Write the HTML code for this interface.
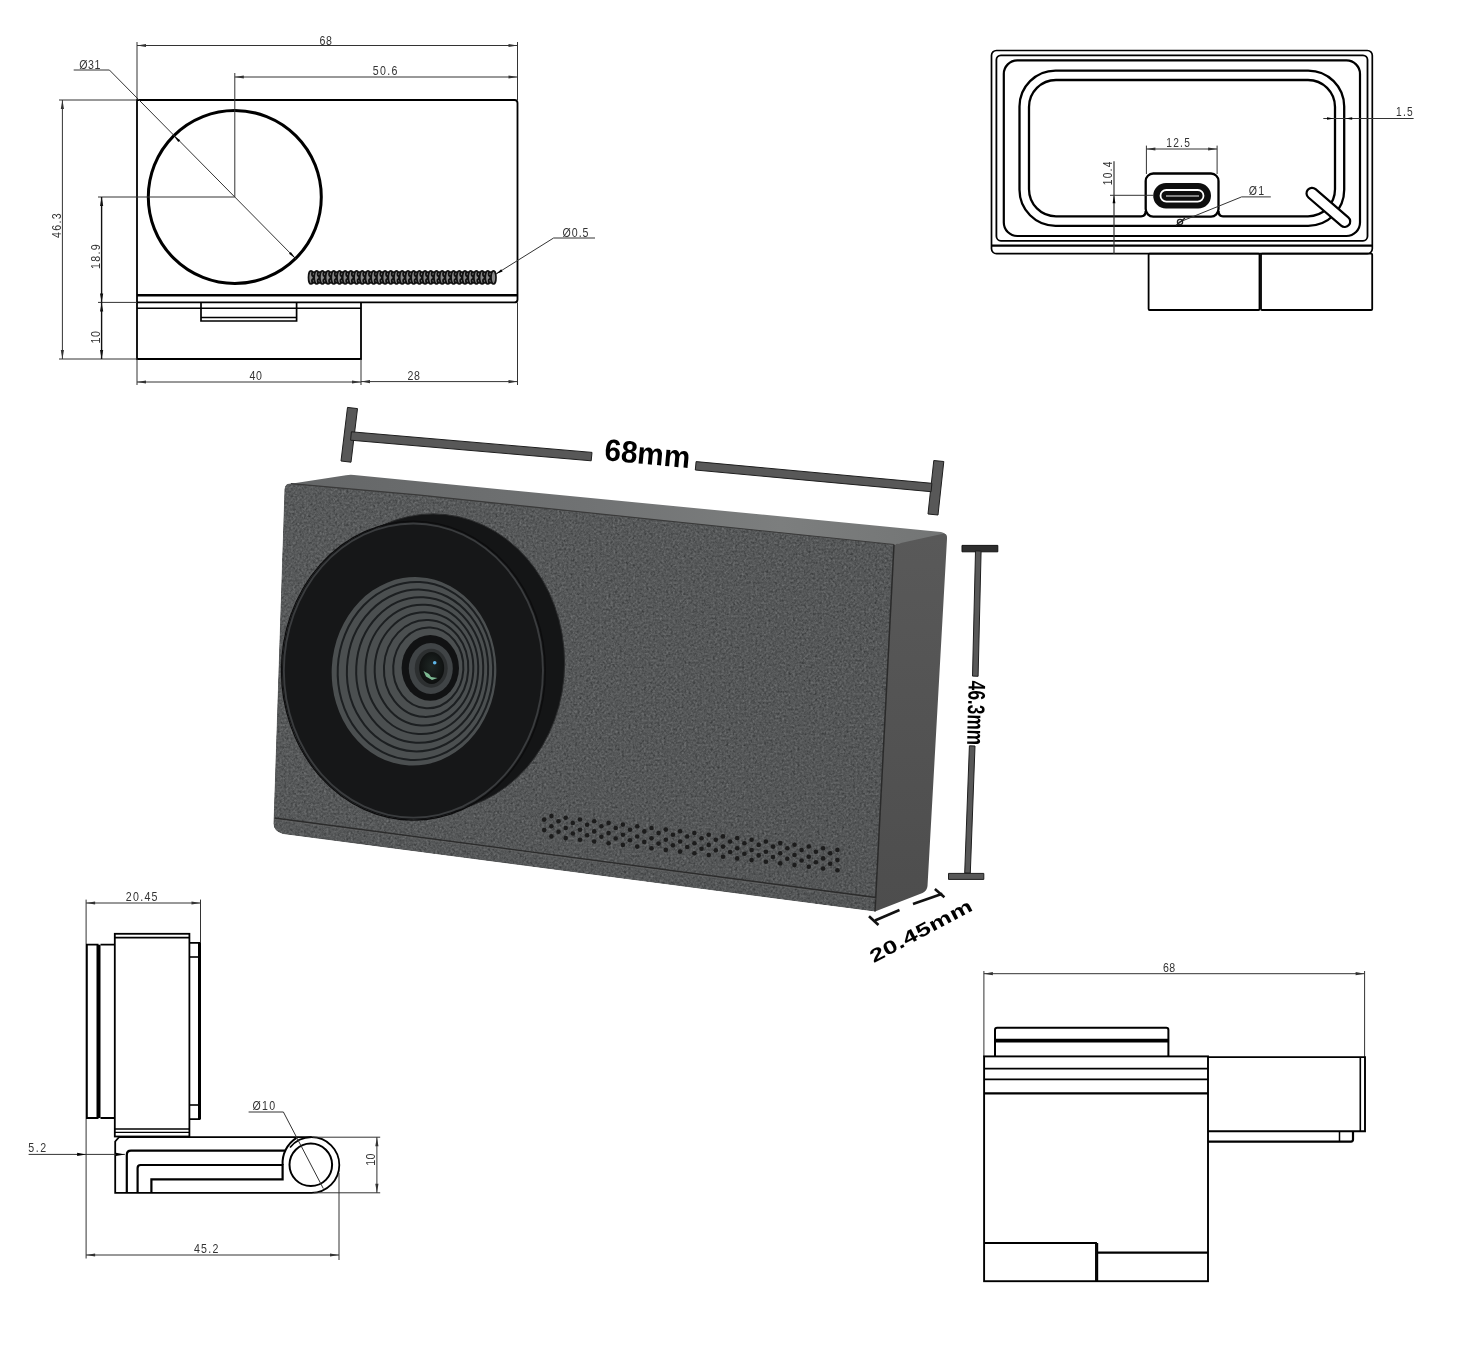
<!DOCTYPE html>
<html><head><meta charset="utf-8"><style>
html,body{margin:0;padding:0;background:#fff;overflow:hidden;}
svg{display:block;will-change:transform;}
</style></head><body>
<svg width="1471" height="1358" viewBox="0 0 1471 1358">
<rect width="1471" height="1358" fill="#fff"/>
<path d="M137,100 H514.5 Q517.5,100 517.5,103 V299.4 Q517.5,302.4 514.5,302.4 H137 Z" fill="none" stroke="#000" stroke-width="1.8"/><line x1="137" y1="295.2" x2="517.5" y2="295.2" stroke="#000" stroke-width="2.4" /><path d="M137,302.4 V359 H361 V302.4" fill="none" stroke="#000" stroke-width="1.8"/><line x1="137" y1="308.3" x2="361" y2="308.3" stroke="#000" stroke-width="1.6" /><path d="M201,302.4 V321 H296.6 V302.4" fill="none" stroke="#000" stroke-width="1.7"/><line x1="201" y1="317.6" x2="296.6" y2="317.6" stroke="#000" stroke-width="1.5" /><circle cx="234.8" cy="197" r="86.5" fill="none" stroke="#000" stroke-width="3"/><line x1="234.8" y1="73" x2="234.8" y2="197" stroke="#333" stroke-width="1" /><line x1="98" y1="197" x2="234.8" y2="197" stroke="#333" stroke-width="1" /><polyline points="73.7,70 109.4,70 296,259" fill="none" stroke="#333" stroke-width="1"/><polygon points="173.6,135.5 180.2,140.2 178.3,142.1" fill="#000"/><polygon points="295.5,258.5 289.0,253.7 290.8,251.9" fill="#000"/><text transform="translate(90,64) rotate(0) scale(0.85,1)" font-family="&quot;Liberation Sans&quot;, sans-serif" font-size="12.5" font-weight="normal" letter-spacing="0.6" fill="#333" text-anchor="middle" dominant-baseline="central">&#216;31</text><line x1="137" y1="42" x2="137" y2="100" stroke="#333" stroke-width="1" /><line x1="517.5" y1="42" x2="517.5" y2="100" stroke="#333" stroke-width="1" /><line x1="137" y1="45.5" x2="517.5" y2="45.5" stroke="#333" stroke-width="1.0" /><polygon points="137.0,45.5 146.0,43.9 146.0,47.1" fill="#333"/><polygon points="517.5,45.5 508.5,47.1 508.5,43.9" fill="#333"/><text transform="translate(326,40) rotate(0) scale(0.85,1)" font-family="&quot;Liberation Sans&quot;, sans-serif" font-size="12.5" font-weight="normal" letter-spacing="0.6" fill="#333" text-anchor="middle" dominant-baseline="central">68</text><line x1="234.8" y1="77" x2="517.5" y2="77" stroke="#333" stroke-width="1.0" /><polygon points="234.8,77.0 243.8,75.4 243.8,78.6" fill="#333"/><polygon points="517.5,77.0 508.5,78.6 508.5,75.4" fill="#333"/><text transform="translate(385.7,70.4) rotate(0) scale(0.85,1)" font-family="&quot;Liberation Sans&quot;, sans-serif" font-size="12.5" font-weight="normal" letter-spacing="1.5" fill="#333" text-anchor="middle" dominant-baseline="central">50.6</text><line x1="59" y1="100" x2="137" y2="100" stroke="#333" stroke-width="1" /><line x1="59" y1="359" x2="137" y2="359" stroke="#333" stroke-width="1" /><line x1="62.4" y1="100" x2="62.4" y2="359" stroke="#333" stroke-width="1.0" /><polygon points="62.4,100.0 64.0,109.0 60.8,109.0" fill="#333"/><polygon points="62.4,359.0 60.8,350.0 64.0,350.0" fill="#333"/><text transform="translate(56,225) rotate(-90) scale(0.85,1)" font-family="&quot;Liberation Sans&quot;, sans-serif" font-size="12.5" font-weight="normal" letter-spacing="1.5" fill="#333" text-anchor="middle" dominant-baseline="central">46.3</text><line x1="98" y1="302.4" x2="137" y2="302.4" stroke="#333" stroke-width="1" /><line x1="101.6" y1="197" x2="101.6" y2="302.4" stroke="#111" stroke-width="1.4" /><polygon points="101.6,197.0 103.2,206.0 100.0,206.0" fill="#111"/><polygon points="101.6,302.4 100.0,293.4 103.2,293.4" fill="#111"/><line x1="101.6" y1="302.4" x2="101.6" y2="359" stroke="#111" stroke-width="1.4" /><polygon points="101.6,302.4 103.2,311.4 100.0,311.4" fill="#111"/><polygon points="101.6,359.0 100.0,350.0 103.2,350.0" fill="#111"/><text transform="translate(95,256) rotate(-90) scale(0.85,1)" font-family="&quot;Liberation Sans&quot;, sans-serif" font-size="12.5" font-weight="normal" letter-spacing="1.5" fill="#333" text-anchor="middle" dominant-baseline="central">18.9</text><text transform="translate(95,337) rotate(-90) scale(0.85,1)" font-family="&quot;Liberation Sans&quot;, sans-serif" font-size="12.5" font-weight="normal" letter-spacing="0.6" fill="#333" text-anchor="middle" dominant-baseline="central">10</text><line x1="137" y1="359" x2="137" y2="385" stroke="#333" stroke-width="1" /><line x1="361" y1="359" x2="361" y2="385" stroke="#333" stroke-width="1" /><line x1="517.5" y1="302.4" x2="517.5" y2="385" stroke="#333" stroke-width="1" /><line x1="137" y1="382" x2="361" y2="382" stroke="#333" stroke-width="1.0" /><polygon points="137.0,382.0 146.0,380.4 146.0,383.6" fill="#333"/><polygon points="361.0,382.0 352.0,383.6 352.0,380.4" fill="#333"/><line x1="361" y1="381.6" x2="517.5" y2="381.6" stroke="#333" stroke-width="1.0" /><polygon points="361.0,381.6 370.0,380.0 370.0,383.2" fill="#333"/><polygon points="517.5,381.6 508.5,383.2 508.5,380.0" fill="#333"/><text transform="translate(256,375) rotate(0) scale(0.85,1)" font-family="&quot;Liberation Sans&quot;, sans-serif" font-size="12.5" font-weight="normal" letter-spacing="0.6" fill="#333" text-anchor="middle" dominant-baseline="central">40</text><text transform="translate(414,375) rotate(0) scale(0.85,1)" font-family="&quot;Liberation Sans&quot;, sans-serif" font-size="12.5" font-weight="normal" letter-spacing="0.6" fill="#333" text-anchor="middle" dominant-baseline="central">28</text><g fill="#888" stroke="#111" stroke-width="1.7"><ellipse cx="311.0" cy="277.4" rx="2.5" ry="6.6" /><circle cx="313.9" cy="274.2" r="2" /><circle cx="313.9" cy="280.8" r="2" /><ellipse cx="316.7" cy="277.4" rx="2.5" ry="6.6" /><circle cx="319.6" cy="274.2" r="2" /><circle cx="319.6" cy="280.8" r="2" /><ellipse cx="322.4" cy="277.4" rx="2.5" ry="6.6" /><circle cx="325.3" cy="274.2" r="2" /><circle cx="325.3" cy="280.8" r="2" /><ellipse cx="328.1" cy="277.4" rx="2.5" ry="6.6" /><circle cx="331.0" cy="274.2" r="2" /><circle cx="331.0" cy="280.8" r="2" /><ellipse cx="333.8" cy="277.4" rx="2.5" ry="6.6" /><circle cx="336.7" cy="274.2" r="2" /><circle cx="336.7" cy="280.8" r="2" /><ellipse cx="339.5" cy="277.4" rx="2.5" ry="6.6" /><circle cx="342.4" cy="274.2" r="2" /><circle cx="342.4" cy="280.8" r="2" /><ellipse cx="345.2" cy="277.4" rx="2.5" ry="6.6" /><circle cx="348.1" cy="274.2" r="2" /><circle cx="348.1" cy="280.8" r="2" /><ellipse cx="350.9" cy="277.4" rx="2.5" ry="6.6" /><circle cx="353.8" cy="274.2" r="2" /><circle cx="353.8" cy="280.8" r="2" /><ellipse cx="356.6" cy="277.4" rx="2.5" ry="6.6" /><circle cx="359.5" cy="274.2" r="2" /><circle cx="359.5" cy="280.8" r="2" /><ellipse cx="362.3" cy="277.4" rx="2.5" ry="6.6" /><circle cx="365.2" cy="274.2" r="2" /><circle cx="365.2" cy="280.8" r="2" /><ellipse cx="368.0" cy="277.4" rx="2.5" ry="6.6" /><circle cx="370.9" cy="274.2" r="2" /><circle cx="370.9" cy="280.8" r="2" /><ellipse cx="373.7" cy="277.4" rx="2.5" ry="6.6" /><circle cx="376.6" cy="274.2" r="2" /><circle cx="376.6" cy="280.8" r="2" /><ellipse cx="379.4" cy="277.4" rx="2.5" ry="6.6" /><circle cx="382.3" cy="274.2" r="2" /><circle cx="382.3" cy="280.8" r="2" /><ellipse cx="385.1" cy="277.4" rx="2.5" ry="6.6" /><circle cx="388.0" cy="274.2" r="2" /><circle cx="388.0" cy="280.8" r="2" /><ellipse cx="390.8" cy="277.4" rx="2.5" ry="6.6" /><circle cx="393.7" cy="274.2" r="2" /><circle cx="393.7" cy="280.8" r="2" /><ellipse cx="396.5" cy="277.4" rx="2.5" ry="6.6" /><circle cx="399.4" cy="274.2" r="2" /><circle cx="399.4" cy="280.8" r="2" /><ellipse cx="402.2" cy="277.4" rx="2.5" ry="6.6" /><circle cx="405.1" cy="274.2" r="2" /><circle cx="405.1" cy="280.8" r="2" /><ellipse cx="408.0" cy="277.4" rx="2.5" ry="6.6" /><circle cx="410.8" cy="274.2" r="2" /><circle cx="410.8" cy="280.8" r="2" /><ellipse cx="413.7" cy="277.4" rx="2.5" ry="6.6" /><circle cx="416.5" cy="274.2" r="2" /><circle cx="416.5" cy="280.8" r="2" /><ellipse cx="419.4" cy="277.4" rx="2.5" ry="6.6" /><circle cx="422.2" cy="274.2" r="2" /><circle cx="422.2" cy="280.8" r="2" /><ellipse cx="425.1" cy="277.4" rx="2.5" ry="6.6" /><circle cx="427.9" cy="274.2" r="2" /><circle cx="427.9" cy="280.8" r="2" /><ellipse cx="430.8" cy="277.4" rx="2.5" ry="6.6" /><circle cx="433.6" cy="274.2" r="2" /><circle cx="433.6" cy="280.8" r="2" /><ellipse cx="436.5" cy="277.4" rx="2.5" ry="6.6" /><circle cx="439.3" cy="274.2" r="2" /><circle cx="439.3" cy="280.8" r="2" /><ellipse cx="442.2" cy="277.4" rx="2.5" ry="6.6" /><circle cx="445.0" cy="274.2" r="2" /><circle cx="445.0" cy="280.8" r="2" /><ellipse cx="447.9" cy="277.4" rx="2.5" ry="6.6" /><circle cx="450.7" cy="274.2" r="2" /><circle cx="450.7" cy="280.8" r="2" /><ellipse cx="453.6" cy="277.4" rx="2.5" ry="6.6" /><circle cx="456.4" cy="274.2" r="2" /><circle cx="456.4" cy="280.8" r="2" /><ellipse cx="459.3" cy="277.4" rx="2.5" ry="6.6" /><circle cx="462.1" cy="274.2" r="2" /><circle cx="462.1" cy="280.8" r="2" /><ellipse cx="465.0" cy="277.4" rx="2.5" ry="6.6" /><circle cx="467.8" cy="274.2" r="2" /><circle cx="467.8" cy="280.8" r="2" /><ellipse cx="470.7" cy="277.4" rx="2.5" ry="6.6" /><circle cx="473.5" cy="274.2" r="2" /><circle cx="473.5" cy="280.8" r="2" /><ellipse cx="476.4" cy="277.4" rx="2.5" ry="6.6" /><circle cx="479.2" cy="274.2" r="2" /><circle cx="479.2" cy="280.8" r="2" /><ellipse cx="482.1" cy="277.4" rx="2.5" ry="6.6" /><circle cx="484.9" cy="274.2" r="2" /><circle cx="484.9" cy="280.8" r="2" /><ellipse cx="487.8" cy="277.4" rx="2.5" ry="6.6" /><circle cx="490.6" cy="274.2" r="2" /><circle cx="490.6" cy="280.8" r="2" /><ellipse cx="493.5" cy="277.4" rx="2.5" ry="6.6" /></g><polyline points="496,274 553.6,238 595,238" fill="none" stroke="#333" stroke-width="1"/><polygon points="496.0,274.0 501.2,269.2 502.6,271.4" fill="#000"/><text transform="translate(576,232) rotate(0) scale(0.85,1)" font-family="&quot;Liberation Sans&quot;, sans-serif" font-size="12.5" font-weight="normal" letter-spacing="1.2" fill="#333" text-anchor="middle" dominant-baseline="central">&#216;0.5</text><rect x="991.5" y="50.5" width="380.80" height="203.20" rx="5" fill="none" stroke="#000" stroke-width="1.7"/><line x1="991.5" y1="245.6" x2="1372.3" y2="245.6" stroke="#000" stroke-width="2.2" /><rect x="996.4" y="55.3" width="371.10" height="185.50" rx="4.5" fill="none" stroke="#000" stroke-width="1.8"/><rect x="1003.8" y="60.4" width="356.20" height="175.60" rx="13.5" fill="none" stroke="#000" stroke-width="2.2"/><rect x="1019.5" y="70.6" width="324.70" height="155.20" rx="36" fill="none" stroke="#000" stroke-width="2.3"/><path d="M1141,216.3 H1056 A27,27 0 0 1 1029,189.3 V107 A27,27 0 0 1 1056,80 H1308 A27,27 0 0 1 1335,107 V189.3 A27,27 0 0 1 1308,216.3 H1223 Q1218.5,216.3 1218.5,211 M1141,216.3 Q1145.7,216.3 1145.7,211" fill="none" stroke="#000" stroke-width="2.3"/><rect x="1145.7" y="173.5" width="72.80" height="43.10" rx="7.5" fill="none" stroke="#000" stroke-width="2.3"/><rect x="1153.2" y="183" width="57.8" height="25.6" rx="12.8" fill="#0e0e0e"/><rect x="1160.5" y="190" width="43" height="11.6" rx="5.8" fill="#0e0e0e" stroke="#fff" stroke-width="1.8"/><line x1="1166" y1="196" x2="1199" y2="196" stroke="#aaa" stroke-width="1.3" /><line x1="1312" y1="193.3" x2="1344.7" y2="221.5" stroke="#000" stroke-width="13.2" stroke-linecap="round"/><line x1="1312" y1="193.3" x2="1344.7" y2="221.5" stroke="#fff" stroke-width="8.8" stroke-linecap="round"/><rect x="1148.6" y="253.7" width="110.90" height="56.30" rx="1" fill="none" stroke="#000" stroke-width="1.8"/><rect x="1261" y="253.7" width="111.20" height="56.30" rx="1" fill="none" stroke="#000" stroke-width="1.8"/><line x1="1146.4" y1="145.6" x2="1146.4" y2="174" stroke="#333" stroke-width="1" /><line x1="1217.1" y1="145.6" x2="1217.1" y2="174" stroke="#333" stroke-width="1" /><line x1="1146.4" y1="149" x2="1217.1" y2="149" stroke="#333" stroke-width="1.0" /><polygon points="1146.4,149.0 1155.4,147.4 1155.4,150.6" fill="#333"/><polygon points="1217.1,149.0 1208.1,150.6 1208.1,147.4" fill="#333"/><text transform="translate(1178.7,143) rotate(0) scale(0.85,1)" font-family="&quot;Liberation Sans&quot;, sans-serif" font-size="12" font-weight="normal" letter-spacing="1.5" fill="#333" text-anchor="middle" dominant-baseline="central">12.5</text><line x1="1114" y1="161.3" x2="1114" y2="253.7" stroke="#333" stroke-width="1.2" /><polygon points="1114.0,195.3 1115.4,203.3 1112.6,203.3" fill="#000"/><line x1="1110" y1="195.3" x2="1153" y2="195.3" stroke="#333" stroke-width="1" /><text transform="translate(1107.5,172.8) rotate(-90) scale(0.85,1)" font-family="&quot;Liberation Sans&quot;, sans-serif" font-size="12" font-weight="normal" letter-spacing="1.5" fill="#333" text-anchor="middle" dominant-baseline="central">10.4</text><line x1="1323.3" y1="118.5" x2="1413.6" y2="118.5" stroke="#333" stroke-width="1" /><polygon points="1334.0,118.5 1327.0,119.8 1327.0,117.2" fill="#000"/><polygon points="1345.2,118.5 1352.2,117.2 1352.2,119.8" fill="#000"/><text transform="translate(1405,112) rotate(0) scale(0.85,1)" font-family="&quot;Liberation Sans&quot;, sans-serif" font-size="12" font-weight="normal" letter-spacing="1.5" fill="#333" text-anchor="middle" dominant-baseline="central">1.5</text><polyline points="1178.4,222.5 1241.6,196.9 1270.8,196.9" fill="none" stroke="#333" stroke-width="1"/><circle cx="1180" cy="222" r="2.6" fill="none" stroke="#222" stroke-width="1.3"/><line x1="1176" y1="225.5" x2="1185" y2="218" stroke="#222" stroke-width="1.2" /><text transform="translate(1257,190) rotate(0) scale(0.85,1)" font-family="&quot;Liberation Sans&quot;, sans-serif" font-size="12.5" font-weight="normal" letter-spacing="1.5" fill="#333" text-anchor="middle" dominant-baseline="central">&#216;1</text><defs>
<filter id="grain" x="0" y="0" width="100%" height="100%" color-interpolation-filters="sRGB">
  <feTurbulence type="fractalNoise" baseFrequency="0.45" numOctaves="2" seed="7" result="n"/>
  <feColorMatrix in="n" type="matrix" values="0.33 0.33 0.33 0 0  0.33 0.33 0.33 0 0  0.33 0.33 0.33 0 0  0 0 0 0 1" result="g"/>
  <feComposite in="SourceGraphic" in2="g" operator="arithmetic" k1="0" k2="1" k3="0.45" k4="-0.225" result="c"/>
  <feComposite in="c" in2="SourceAlpha" operator="in"/>
</filter>
<linearGradient id="topG" x1="0" y1="0" x2="1" y2="0">
  <stop offset="0" stop-color="#646667"/><stop offset="0.45" stop-color="#707273"/><stop offset="0.75" stop-color="#7c7e7e"/><stop offset="1" stop-color="#737575"/>
</linearGradient>
<linearGradient id="frontG" x1="0" y1="0" x2="1" y2="1">
  <stop offset="0" stop-color="#585a5b"/><stop offset="1" stop-color="#545657"/>
</linearGradient>
<linearGradient id="sideG" x1="0" y1="0" x2="0" y2="1">
  <stop offset="0" stop-color="#595959"/><stop offset="1" stop-color="#4d4d4d"/>
</linearGradient>
<radialGradient id="glassG" cx="0.5" cy="0.45" r="0.6">
  <stop offset="0" stop-color="#1e2624"/><stop offset="1" stop-color="#0c0d0d"/>
</radialGradient>
</defs><path d="M286,484.5 L346,475.2 Q350,474.6 354,475 L941,532 Q947,533.5 946,537 L894,544.5 Z" fill="url(#topG)"/><path d="M894,544.5 L944,533.5 Q947.5,534 947,539 L927.5,886 Q927,891 922.5,893 L875,911.5 Z" fill="url(#sideG)"/><path d="M291,483.6 L420,495.2 L894,544.5 L875,911.5 L283,834 Q273.5,831.5 273.5,823.5 L284.5,489 Q285,483.6 291,483.6 Z" fill="url(#frontG)" filter="url(#grain)"/><path d="M894,544.5 L875,911.5" stroke="#2a2a2a" stroke-width="1.5" fill="none"/><path d="M291,483.6 L420,495.2 L894,544.5" stroke="#3a3a3a" stroke-width="1.2" fill="none"/><path d="M274.5,818 L876,897.5" stroke="#2b2b2b" stroke-width="1.4" fill="none"/><path d="M274.5,819.5 L876,899" stroke="#6a6a6a" stroke-width="0.8" fill="none" opacity="0.6"/><ellipse cx="413.4" cy="670.6" rx="131.5" ry="149" fill="#141516"/><ellipse cx="415.4" cy="669.8" rx="131.5" ry="149" fill="#141516"/><ellipse cx="417.3" cy="669.1" rx="131.5" ry="149" fill="#141516"/><ellipse cx="419.3" cy="668.3" rx="131.5" ry="149" fill="#141516"/><ellipse cx="421.3" cy="667.5" rx="131.5" ry="149" fill="#141516"/><ellipse cx="423.2" cy="666.8" rx="131.5" ry="149" fill="#141516"/><ellipse cx="425.2" cy="666.0" rx="131.5" ry="149" fill="#141516"/><ellipse cx="427.2" cy="665.2" rx="131.5" ry="149" fill="#141516"/><ellipse cx="429.2" cy="664.4" rx="131.5" ry="149" fill="#141516"/><ellipse cx="431.1" cy="663.7" rx="131.5" ry="149" fill="#141516"/><ellipse cx="433.1" cy="662.9" rx="131.5" ry="149" fill="#141516"/><ellipse cx="433.1" cy="662.9" rx="131.5" ry="149" fill="none" stroke="#2a2b2c" stroke-width="1"/><ellipse cx="413.4" cy="670.6" rx="132" ry="149.5" fill="none" stroke="#0c0c0d" stroke-width="1.2"/><ellipse cx="413.4" cy="670.6" rx="130.5" ry="148" fill="#3a3c3e"/><ellipse cx="413.4" cy="670.6" rx="128.6" ry="146.1" fill="#161718"/><ellipse cx="414" cy="671.3" rx="82.3" ry="94.3" transform="rotate(3 414 671.3)" fill="#4b4f50"/><ellipse cx="415.4" cy="671.0" rx="77.7" ry="89.0" transform="rotate(3 415.4 671.0)" fill="none" stroke="#1c1f21" stroke-width="2"/><ellipse cx="417.5" cy="670.5" rx="70.6" ry="80.9" transform="rotate(3 417.5 670.5)" fill="none" stroke="#1c1f21" stroke-width="2"/><ellipse cx="419.7" cy="670.0" rx="63.5" ry="72.8" transform="rotate(3 419.7 670.0)" fill="none" stroke="#1c1f21" stroke-width="2"/><ellipse cx="421.8" cy="669.4" rx="56.4" ry="64.7" transform="rotate(3 421.8 669.4)" fill="none" stroke="#1c1f21" stroke-width="2"/><ellipse cx="424.0" cy="668.9" rx="49.3" ry="56.6" transform="rotate(3 424.0 668.9)" fill="none" stroke="#1c1f21" stroke-width="2"/><ellipse cx="426.1" cy="668.4" rx="42.2" ry="48.5" transform="rotate(3 426.1 668.4)" fill="none" stroke="#1c1f21" stroke-width="2"/><ellipse cx="428.3" cy="667.9" rx="35.1" ry="40.4" transform="rotate(3 428.3 667.9)" fill="none" stroke="#1c1f21" stroke-width="2"/><ellipse cx="430.3" cy="667.9" rx="28.7" ry="32.9" fill="#111213"/><ellipse cx="430.8" cy="668.5" rx="22" ry="25.5" fill="#404446"/><ellipse cx="431.2" cy="668.2" rx="16.5" ry="19.5" fill="#2c2f30"/><ellipse cx="431.7" cy="668" rx="12.5" ry="16" fill="url(#glassG)"/><circle cx="434.7" cy="662.8" r="1.8" fill="#5fb6e8"/><path d="M423.5,671 L429,674 L431,677 L437.5,678 L432,680 L426,676.5 Z" fill="#8fd6a8" opacity="0.85"/><g fill="#1c1c1c"><circle cx="544.2" cy="819.6" r="2.3"/><circle cx="544.2" cy="830.1" r="2.3"/><circle cx="551.4" cy="816.1" r="2.3"/><circle cx="551.4" cy="826.3" r="2.3"/><circle cx="551.4" cy="836.4" r="2.3"/><circle cx="558.5" cy="821.3" r="2.3"/><circle cx="558.5" cy="831.8" r="2.3"/><circle cx="565.7" cy="817.8" r="2.3"/><circle cx="565.7" cy="828.0" r="2.3"/><circle cx="565.7" cy="838.1" r="2.3"/><circle cx="572.8" cy="823.0" r="2.3"/><circle cx="572.8" cy="833.5" r="2.3"/><circle cx="580.0" cy="819.5" r="2.3"/><circle cx="580.0" cy="829.7" r="2.3"/><circle cx="580.0" cy="839.8" r="2.3"/><circle cx="587.1" cy="824.7" r="2.3"/><circle cx="587.1" cy="835.2" r="2.3"/><circle cx="594.2" cy="821.2" r="2.3"/><circle cx="594.2" cy="831.4" r="2.3"/><circle cx="594.2" cy="841.5" r="2.3"/><circle cx="601.4" cy="826.3" r="2.3"/><circle cx="601.4" cy="836.8" r="2.3"/><circle cx="608.6" cy="822.9" r="2.3"/><circle cx="608.6" cy="833.1" r="2.3"/><circle cx="608.6" cy="843.2" r="2.3"/><circle cx="615.7" cy="828.0" r="2.3"/><circle cx="615.7" cy="838.5" r="2.3"/><circle cx="622.9" cy="824.6" r="2.3"/><circle cx="622.9" cy="834.8" r="2.3"/><circle cx="622.9" cy="844.9" r="2.3"/><circle cx="630.0" cy="829.7" r="2.3"/><circle cx="630.0" cy="840.2" r="2.3"/><circle cx="637.2" cy="826.3" r="2.3"/><circle cx="637.2" cy="836.5" r="2.3"/><circle cx="637.2" cy="846.6" r="2.3"/><circle cx="644.3" cy="831.4" r="2.3"/><circle cx="644.3" cy="841.9" r="2.3"/><circle cx="651.5" cy="828.0" r="2.3"/><circle cx="651.5" cy="838.2" r="2.3"/><circle cx="651.5" cy="848.3" r="2.3"/><circle cx="658.6" cy="833.1" r="2.3"/><circle cx="658.6" cy="843.6" r="2.3"/><circle cx="665.8" cy="829.6" r="2.3"/><circle cx="665.8" cy="839.8" r="2.3"/><circle cx="665.8" cy="849.9" r="2.3"/><circle cx="672.9" cy="834.8" r="2.3"/><circle cx="672.9" cy="845.3" r="2.3"/><circle cx="680.1" cy="831.3" r="2.3"/><circle cx="680.1" cy="841.5" r="2.3"/><circle cx="680.1" cy="851.6" r="2.3"/><circle cx="687.2" cy="836.5" r="2.3"/><circle cx="687.2" cy="847.0" r="2.3"/><circle cx="694.4" cy="833.0" r="2.3"/><circle cx="694.4" cy="843.2" r="2.3"/><circle cx="694.4" cy="853.3" r="2.3"/><circle cx="701.5" cy="838.2" r="2.3"/><circle cx="701.5" cy="848.7" r="2.3"/><circle cx="708.7" cy="834.7" r="2.3"/><circle cx="708.7" cy="844.9" r="2.3"/><circle cx="708.7" cy="855.0" r="2.3"/><circle cx="715.8" cy="839.8" r="2.3"/><circle cx="715.8" cy="850.3" r="2.3"/><circle cx="723.0" cy="836.4" r="2.3"/><circle cx="723.0" cy="846.6" r="2.3"/><circle cx="723.0" cy="856.7" r="2.3"/><circle cx="730.1" cy="841.5" r="2.3"/><circle cx="730.1" cy="852.0" r="2.3"/><circle cx="737.2" cy="838.1" r="2.3"/><circle cx="737.2" cy="848.3" r="2.3"/><circle cx="737.2" cy="858.4" r="2.3"/><circle cx="744.4" cy="843.2" r="2.3"/><circle cx="744.4" cy="853.7" r="2.3"/><circle cx="751.6" cy="839.8" r="2.3"/><circle cx="751.6" cy="850.0" r="2.3"/><circle cx="751.6" cy="860.1" r="2.3"/><circle cx="758.7" cy="844.9" r="2.3"/><circle cx="758.7" cy="855.4" r="2.3"/><circle cx="765.9" cy="841.5" r="2.3"/><circle cx="765.9" cy="851.7" r="2.3"/><circle cx="765.9" cy="861.8" r="2.3"/><circle cx="773.0" cy="846.6" r="2.3"/><circle cx="773.0" cy="857.1" r="2.3"/><circle cx="780.2" cy="843.1" r="2.3"/><circle cx="780.2" cy="853.3" r="2.3"/><circle cx="780.2" cy="863.4" r="2.3"/><circle cx="787.3" cy="848.3" r="2.3"/><circle cx="787.3" cy="858.8" r="2.3"/><circle cx="794.5" cy="844.8" r="2.3"/><circle cx="794.5" cy="855.0" r="2.3"/><circle cx="794.5" cy="865.1" r="2.3"/><circle cx="801.6" cy="850.0" r="2.3"/><circle cx="801.6" cy="860.5" r="2.3"/><circle cx="808.8" cy="846.5" r="2.3"/><circle cx="808.8" cy="856.7" r="2.3"/><circle cx="808.8" cy="866.8" r="2.3"/><circle cx="815.9" cy="851.7" r="2.3"/><circle cx="815.9" cy="862.2" r="2.3"/><circle cx="823.1" cy="848.2" r="2.3"/><circle cx="823.1" cy="858.4" r="2.3"/><circle cx="823.1" cy="868.5" r="2.3"/><circle cx="830.2" cy="853.3" r="2.3"/><circle cx="830.2" cy="863.8" r="2.3"/><circle cx="837.4" cy="849.9" r="2.3"/><circle cx="837.4" cy="860.1" r="2.3"/><circle cx="837.4" cy="870.2" r="2.3"/></g><polygon points="347.5,407.4 341.0,461.0 351.0,462.2 357.5,408.6" fill="#585858" stroke="#1e1e1e" stroke-width="1"/><polygon points="933.8,460.5 928.0,514.0 938.0,515.0 943.8,461.5" fill="#585858" stroke="#1e1e1e" stroke-width="1"/><polygon points="350.6,440.2 591.2,460.8 592.0,452.4 351.4,431.8" fill="#585858" stroke="#1e1e1e" stroke-width="1"/><polygon points="695.3,470.0 931.1,491.7 931.9,483.3 696.1,461.6" fill="#585858" stroke="#1e1e1e" stroke-width="1"/><text transform="translate(647.5,453) rotate(5.2) scale(0.96,1)" font-family="&quot;Liberation Sans&quot;, sans-serif" font-size="31" font-weight="bold" fill="#000" text-anchor="middle" dominant-baseline="central">68mm</text><polygon points="962.0,551.8 997.8,551.8 997.8,545.4 962.0,545.4" fill="#2e2e2e" stroke="#111" stroke-width="1"/><polygon points="948.5,879.4 983.8,879.4 983.8,873.4 948.5,873.4" fill="#585858" stroke="#1e1e1e" stroke-width="1"/><polygon points="975.5,550.9 972.5,676.1 978.1,676.3 981.1,551.1" fill="#585858" stroke="#1e1e1e" stroke-width="1"/><polygon points="969.4,745.8 964.7,872.9 970.3,873.1 975.0,746.0" fill="#585858" stroke="#1e1e1e" stroke-width="1"/><text transform="translate(976.5,713) rotate(91.5) scale(0.72,1)" font-family="&quot;Liberation Sans&quot;, sans-serif" font-size="24" font-weight="bold" fill="#000" text-anchor="middle" dominant-baseline="central">46.3mm</text><line x1="869" y1="916.2" x2="878.5" y2="925" stroke="#111" stroke-width="2.6" /><line x1="875" y1="920.5" x2="899.5" y2="910" stroke="#111" stroke-width="2.6" /><line x1="913" y1="904" x2="942.4" y2="893.8" stroke="#111" stroke-width="2.6" /><line x1="934.9" y1="889" x2="944.4" y2="897.2" stroke="#111" stroke-width="2.6" /><text transform="translate(921,931) rotate(-28) scale(1.4,1)" font-family="&quot;Liberation Sans&quot;, sans-serif" font-size="18.5" font-weight="bold" fill="#000" text-anchor="middle" dominant-baseline="central" letter-spacing="0.3">20.45mm</text><line x1="86.1" y1="899.6" x2="86.1" y2="1258.5" stroke="#333" stroke-width="1" /><line x1="200.5" y1="899.6" x2="200.5" y2="942.9" stroke="#333" stroke-width="1" /><line x1="86.1" y1="903" x2="200.5" y2="903" stroke="#333" stroke-width="1.0" /><polygon points="86.1,903.0 95.1,901.4 95.1,904.6" fill="#333"/><polygon points="200.5,903.0 191.5,904.6 191.5,901.4" fill="#333"/><text transform="translate(142.3,896.6) rotate(0) scale(0.85,1)" font-family="&quot;Liberation Sans&quot;, sans-serif" font-size="12.5" font-weight="normal" letter-spacing="1.5" fill="#333" text-anchor="middle" dominant-baseline="central">20.45</text><path d="M98.5,1118 H86.9 V944.7 H98.5" fill="none" stroke="#000" stroke-width="1.8"/><line x1="98.5" y1="944.7" x2="98.5" y2="1118" stroke="#000" stroke-width="4" /><path d="M100.5,944.7 H114.8 M100.5,1118 H114.8" fill="none" stroke="#000" stroke-width="1.8"/><rect x="114.8" y="933.8" width="74.6" height="202.7" fill="none" stroke="#000" stroke-width="1.8"/><line x1="114.8" y1="937.6" x2="189.4" y2="937.6" stroke="#000" stroke-width="1.8" /><line x1="114.8" y1="1129" x2="189.4" y2="1129" stroke="#000" stroke-width="1.6" /><line x1="114.8" y1="1132.4" x2="189.4" y2="1132.4" stroke="#000" stroke-width="1.4" /><path d="M189.4,942.9 H199.5 V1119.2 H189.4" fill="none" stroke="#000" stroke-width="1.8"/><line x1="199.5" y1="942.9" x2="199.5" y2="1119.2" stroke="#000" stroke-width="3" /><line x1="189.4" y1="957" x2="199.5" y2="957" stroke="#000" stroke-width="1.6" /><line x1="189.4" y1="1105" x2="199.5" y2="1105" stroke="#000" stroke-width="1.6" /><path d="M119,1137.2 H311.5 A27.8,27.8 0 0 1 311.5,1192.8 H115.2 V1141.5 Z" fill="none" stroke="#000" stroke-width="1.8"/><path d="M311.5,1137.2 A27.8,27.8 0 0 0 290,1147.5" fill="none" stroke="#000" stroke-width="1.8"/><circle cx="310.8" cy="1164.8" r="21.3" fill="none" stroke="#000" stroke-width="2"/><path d="M126.8,1192.8 V1155 Q126.8,1150.7 131,1150.7 H285" fill="none" stroke="#000" stroke-width="2.2"/><path d="M296.5,1137.8 A30,30 0 0 0 282.6,1165" fill="none" stroke="#000" stroke-width="2"/><path d="M137.6,1192.8 V1168 Q137.6,1165 140.6,1165 H282.6 V1179.3 H151.4 V1192.8" fill="none" stroke="#000" stroke-width="2.2"/><polyline points="248.6,1112 283.4,1112 323.3,1188.5" fill="none" stroke="#333" stroke-width="1"/><text transform="translate(264.5,1105.5) rotate(0) scale(0.85,1)" font-family="&quot;Liberation Sans&quot;, sans-serif" font-size="12.5" font-weight="normal" letter-spacing="1.5" fill="#333" text-anchor="middle" dominant-baseline="central">&#216;10</text><line x1="313" y1="1137.2" x2="380.2" y2="1137.2" stroke="#333" stroke-width="1" /><line x1="314" y1="1192.8" x2="380.2" y2="1192.8" stroke="#333" stroke-width="1" /><line x1="376.9" y1="1137.2" x2="376.9" y2="1192.8" stroke="#333" stroke-width="1.0" /><polygon points="376.9,1137.2 378.5,1146.2 375.3,1146.2" fill="#333"/><polygon points="376.9,1192.8 375.3,1183.8 378.5,1183.8" fill="#333"/><text transform="translate(370.4,1159.4) rotate(-90) scale(0.85,1)" font-family="&quot;Liberation Sans&quot;, sans-serif" font-size="12.5" font-weight="normal" letter-spacing="0.6" fill="#333" text-anchor="middle" dominant-baseline="central">10</text><line x1="28.6" y1="1154.4" x2="124.9" y2="1154.4" stroke="#333" stroke-width="1" /><polygon points="86.1,1154.4 77.1,1156.0 77.1,1152.8" fill="#000"/><polygon points="124.9,1154.4 115.9,1156.0 115.9,1152.8" fill="#000"/><text transform="translate(38,1147.5) rotate(0) scale(0.85,1)" font-family="&quot;Liberation Sans&quot;, sans-serif" font-size="12.5" font-weight="normal" letter-spacing="1.8" fill="#333" text-anchor="middle" dominant-baseline="central">5.2</text><line x1="339" y1="1173" x2="339" y2="1260" stroke="#333" stroke-width="1" /><line x1="86.1" y1="1255" x2="339" y2="1255" stroke="#333" stroke-width="1.0" /><polygon points="86.1,1255.0 95.1,1253.4 95.1,1256.6" fill="#333"/><polygon points="339.0,1255.0 330.0,1256.6 330.0,1253.4" fill="#333"/><text transform="translate(206.8,1248.4) rotate(0) scale(0.85,1)" font-family="&quot;Liberation Sans&quot;, sans-serif" font-size="12.5" font-weight="normal" letter-spacing="1.5" fill="#333" text-anchor="middle" dominant-baseline="central">45.2</text><line x1="983.9" y1="971" x2="983.9" y2="1057" stroke="#333" stroke-width="1" /><line x1="1364.6" y1="971" x2="1364.6" y2="1057" stroke="#333" stroke-width="1" /><line x1="983.9" y1="973.7" x2="1364.6" y2="973.7" stroke="#333" stroke-width="1.0" /><polygon points="983.9,973.7 992.9,972.1 992.9,975.3" fill="#333"/><polygon points="1364.6,973.7 1355.6,975.3 1355.6,972.1" fill="#333"/><text transform="translate(1169.3,967.3) rotate(0) scale(0.85,1)" font-family="&quot;Liberation Sans&quot;, sans-serif" font-size="12.5" font-weight="normal" letter-spacing="0.6" fill="#333" text-anchor="middle" dominant-baseline="central">68</text><path d="M995,1056.2 V1030 Q995,1027.8 997.2,1027.8 H1166.2 Q1168.4,1027.8 1168.4,1030 V1056.2" fill="none" stroke="#000" stroke-width="2"/><line x1="995" y1="1040.6" x2="1168.4" y2="1040.6" stroke="#000" stroke-width="3.6" /><rect x="984.1" y="1056.4" width="223.9" height="224.8" fill="none" stroke="#000" stroke-width="1.9"/><line x1="984.1" y1="1068.6" x2="1208" y2="1068.6" stroke="#000" stroke-width="1.7" /><line x1="984.1" y1="1079.3" x2="1208" y2="1079.3" stroke="#000" stroke-width="1.7" /><line x1="984.1" y1="1093.3" x2="1208" y2="1093.3" stroke="#000" stroke-width="2.3" /><path d="M984.1,1243 H1096 V1281.2" fill="none" stroke="#000" stroke-width="1.9"/><line x1="1097.5" y1="1243" x2="1097.5" y2="1281.2" stroke="#000" stroke-width="1.4" /><line x1="1097.5" y1="1252.6" x2="1208" y2="1252.6" stroke="#000" stroke-width="2.4" /><path d="M1208,1057.1 H1365 V1131.2 H1208" fill="none" stroke="#000" stroke-width="1.9"/><line x1="1360.3" y1="1057.1" x2="1360.3" y2="1131.2" stroke="#000" stroke-width="1.6" /><path d="M1208,1141.6 H1351 Q1353,1141.6 1353,1139.6 V1131.2" fill="none" stroke="#000" stroke-width="2.2"/><line x1="1339.5" y1="1131.2" x2="1339.5" y2="1141.6" stroke="#000" stroke-width="1.5" />
</svg></body></html>
